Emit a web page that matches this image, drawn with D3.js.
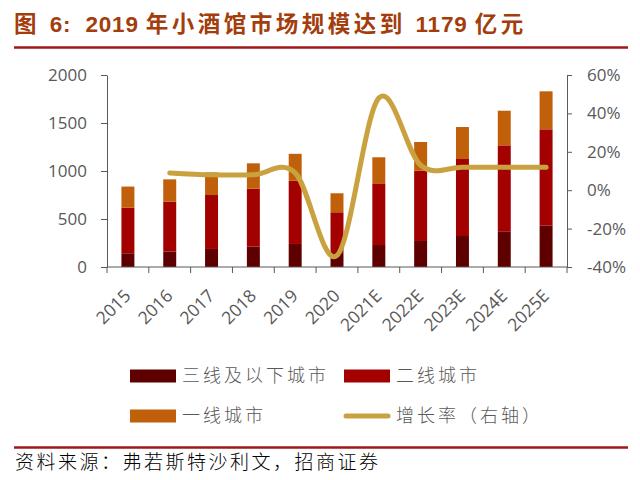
<!DOCTYPE html>
<html>
<head>
<meta charset="utf-8">
<script src="https://cdn.jsdelivr.net/npm/d3@7"></script>
<style>
  body { margin: 0; background: #fff; }
  svg { display: block; }
</style>
</head>
<body>
<div id="chart"></div>
<script>
// data
var years = ["2015", "2016", "2017", "2018", "2019", "2020",
             "2021E", "2022E", "2023E", "2024E", "2025E"];
var tier3 = [143, 160, 188, 212, 240, 145, 229, 271, 323, 372, 430];   // 三线及以下城市
var tier2 = [475, 520, 562, 604, 659, 425, 636, 732, 802, 895, 1004];  // 二线城市
var tier1 = [220, 233, 235, 264, 280, 198, 278, 299, 333, 361, 396];   // 一线城市
var growthYears = ["2016", "2017", "2018", "2019", "2020",
                   "2021E", "2022E", "2023E", "2024E", "2025E"];
var growth = [0.09, 0.08, 0.08, 0.09, -0.34, 0.48, 0.13, 0.12, 0.12, 0.12];
var leftTicks = [0, 500, 1000, 1500, 2000];
var rightTicks = [-0.4, -0.2, 0, 0.2, 0.4, 0.6];

var colors = { tier3: "#5e0000", tier2: "#a30000", tier1: "#c0600a", line: "#c9a13f" };
var axisColor = "#595959";
var textColor = "#595959";

var W = 640, H = 480;
var svg = d3.select("#chart").append("svg")
    .attr("width", W)
    .attr("height", H);

svg.append("rect").attr("width", W).attr("height", H).attr("fill", "#fff");

/*title*/
var titleParts = [
    { t: "图 ", cjk: true },
    { t: "6:  2019 ", cjk: false },
    { t: "年小酒馆市场规模达到 ", cjk: true },
    { t: "1179 ", cjk: false },
    { t: "亿元", cjk: true }
];
svg.append("text")
    .attr("x", 14)
    .attr("y", 32)
    .attr("font-family", "'Liberation Sans', 'Noto Sans CJK SC', sans-serif")
    .attr("font-weight", "bold")
    .attr("font-size", 22.5)
    .attr("fill", "#a33d0c")
    .attr("xml:space", "preserve")
    .style("white-space", "pre")
    .selectAll("tspan")
    .data(titleParts)
    .join("tspan")
    .attr("letter-spacing", function(d) { return d.cjk ? 3.5 : 0.8; })
    .text(function(d) { return d.t; });

svg.append("line")
    .attr("x1", 14).attr("x2", 628)
    .attr("y1", 47.5).attr("y2", 47.5)
    .attr("stroke", "#a01818")
    .attr("stroke-width", 2.5);

/*scales*/
var x = d3.scaleBand().domain(years).range([107, 567]).padding(0);
var y = d3.scaleLinear().domain([0, 2000]).range([267, 75]);
var y2 = d3.scaleLinear().domain([-0.4, 0.6]).range([267, 75]);

var barW = x.bandwidth() * 0.31;

/*stacked bars*/
var rows = years.map(function(d, i) {
    return { year: d, tier3: tier3[i], tier2: tier2[i], tier1: tier1[i] };
});
var stack = d3.stack().keys(["tier3", "tier2", "tier1"])(rows);

svg.append("g").selectAll("g")
    .data(stack)
    .join("g")
    .attr("fill", function(s) { return colors[s.key]; })
    .selectAll("rect")
    .data(function(s) { return s; })
    .join("rect")
    .attr("x", function(d) { return x(d.data.year) + (x.bandwidth() - barW) / 2; })
    .attr("width", barW)
    .attr("y", function(d) { return y(d[1]); })
    .attr("height", function(d) { return y(d[0]) - y(d[1]); });

/*axes*/
var fontAxis = "'Open Sans', 'Liberation Sans', sans-serif";

var gLeft = svg.append("g")
    .attr("transform", "translate(107,0)")
    .call(d3.axisLeft(y).tickValues(leftTicks).tickSize(6).tickPadding(14).tickSizeOuter(0)
        .tickFormat(d3.format("d")));

var gRight = svg.append("g")
    .attr("transform", "translate(567,0)")
    .call(d3.axisRight(y2).tickValues(rightTicks).tickSize(5).tickPadding(15).tickSizeOuter(0)
        .tickFormat(function(d) { return Math.round(d * 100) + "%"; }));

var boundaries = years.map(function(d) { return x(d); }).concat([567]);
var gBottom = svg.append("g").attr("transform", "translate(0,267)");
gBottom.append("line")
    .attr("x1", 107).attr("x2", 567)
    .attr("stroke", axisColor);
gBottom.selectAll("line.tick")
    .data(boundaries)
    .join("line")
    .attr("class", "tick")
    .attr("x1", function(d) { return d; })
    .attr("x2", function(d) { return d; })
    .attr("y1", 0).attr("y2", 6)
    .attr("stroke", axisColor);
gBottom.selectAll("text")
    .data(years)
    .join("text")
    .attr("transform", function(d) {
        return "translate(" + (x(d) + x.bandwidth() / 2 + 4) + ",30) rotate(-45)";
    })
    .attr("text-anchor", "end")
    .attr("font-family", fontAxis)
    .attr("font-size", 17.5)
    .attr("fill", textColor)
    .text(function(d) { return d; });

[gLeft, gRight].forEach(function(g) {
    g.select(".domain").attr("stroke", axisColor);
    g.selectAll(".tick line").attr("stroke", axisColor);
    g.selectAll(".tick text")
        .attr("font-family", fontAxis)
        .attr("font-size", 17)
        .attr("fill", textColor);
});

/*growth line*/
var line = d3.line()
    .x(function(d, i) { return x(growthYears[i]) + x.bandwidth() / 2; })
    .y(function(d) { return y2(d); })
    .curve(d3.curveCardinal.tension(0));

svg.append("path")
    .datum(growth)
    .attr("d", line)
    .attr("fill", "none")
    .attr("stroke", colors.line)
    .attr("stroke-width", 5)
    .attr("stroke-linecap", "round");

/*legend*/
var fontCJK = "'Noto Sans CJK SC', sans-serif";
var legendItems = [
    { label: "三线及以下城市", color: colors.tier3, x: 130, y: 376, type: "rect" },
    { label: "二线城市", color: colors.tier2, x: 344, y: 376, type: "rect" },
    { label: "一线城市", color: colors.tier1, x: 130, y: 416, type: "rect" },
    { label: "增长率（右轴）", color: colors.line, x: 344, y: 416, type: "line" }
];
var legend = svg.append("g").selectAll("g")
    .data(legendItems)
    .join("g")
    .attr("transform", function(d) { return "translate(" + d.x + "," + d.y + ")"; });

legend.filter(function(d) { return d.type === "rect"; })
    .append("rect")
    .attr("x", 0).attr("y", -6.5)
    .attr("width", 46).attr("height", 13)
    .attr("fill", function(d) { return d.color; });

legend.filter(function(d) { return d.type === "line"; })
    .append("line")
    .attr("x1", 2).attr("x2", 44)
    .attr("stroke", function(d) { return d.color; })
    .attr("stroke-width", 5)
    .attr("stroke-linecap", "round");

legend.append("text")
    .attr("x", 52)
    .attr("dy", "0.35em")
    .attr("font-family", fontCJK)
    .attr("font-size", 18)
    .attr("font-weight", 300)
    .attr("letter-spacing", 3)
    .attr("fill", textColor)
    .text(function(d) { return d.label; });

/*source*/
svg.append("line")
    .attr("x1", 14).attr("x2", 628)
    .attr("y1", 447.5).attr("y2", 447.5)
    .attr("stroke", "#a01818")
    .attr("stroke-width", 2.5);

svg.append("text")
    .attr("x", 15)
    .attr("y", 469)
    .attr("font-family", fontCJK)
    .attr("font-size", 19)
    .attr("font-weight", 300)
    .attr("letter-spacing", 2.5)
    .attr("fill", "#000")
    .text("资料来源：弗若斯特沙利文，招商证券");
</script>
</body>
</html>
